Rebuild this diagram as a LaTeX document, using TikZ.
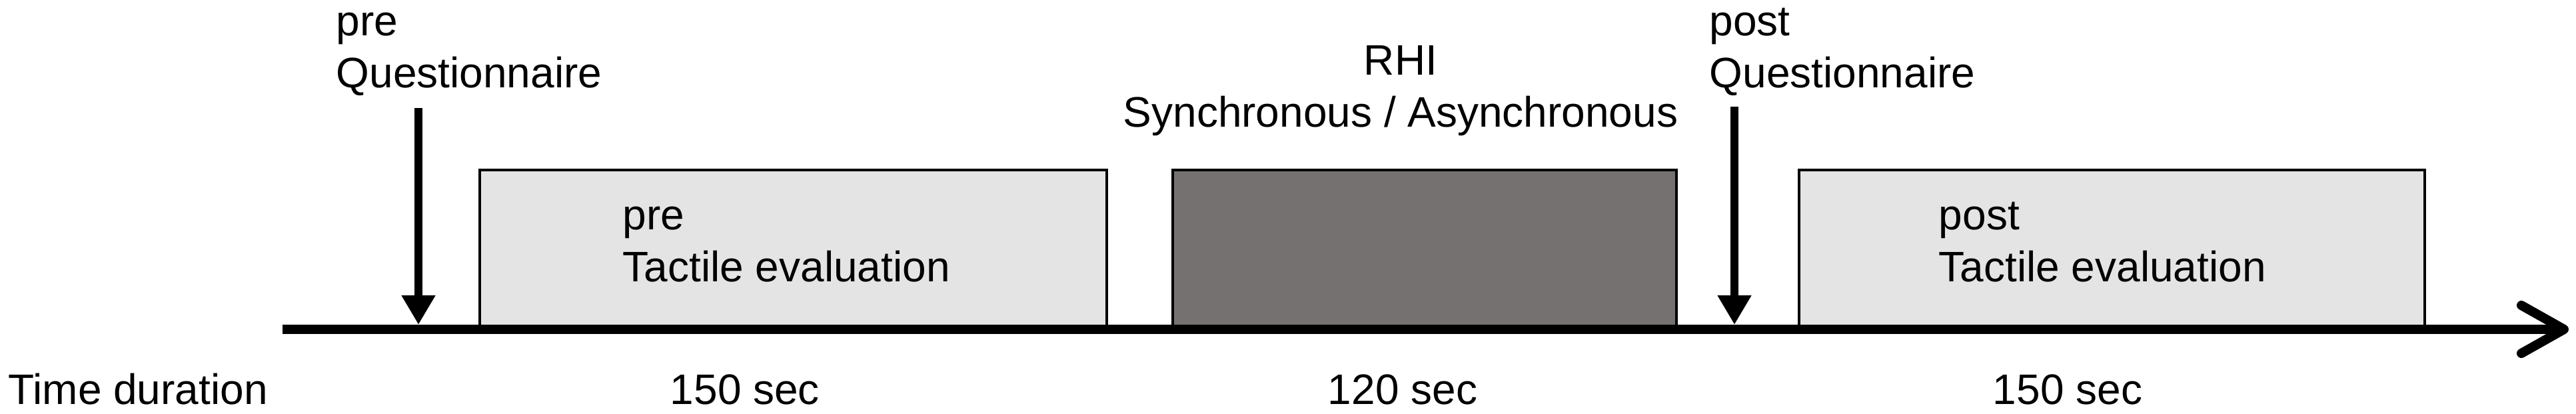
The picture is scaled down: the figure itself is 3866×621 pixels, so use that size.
\documentclass[tikz,border=0pt]{standalone}
\usepackage{fontspec}
\setmainfont{Liberation Sans}
\usetikzlibrary{arrows.meta}
\definecolor{lightbox}{HTML}{E4E4E4}
\definecolor{darkbox}{HTML}{767171}
\begin{document}
\begin{tikzpicture}[x=0.25pt,y=-0.25pt,
  lbl/.style={inner sep=0pt, font=\fontsize{16}{19.5}\selectfont},
  phase/.style={draw, line width=1.2pt, inner sep=0pt, minimum height=58.75pt},
  marker/.style={line width=3.2pt, -{Triangle[width=12pt,length=11pt]}},
  timeaxis/.style={line width=3.5pt, -{Straight Barb[length=16pt,width=18pt,round]}}]
\useasboundingbox (0,0) rectangle (3866,621);
% phase boxes
\node[phase, fill=lightbox, minimum width=235.25pt] (preTE) at (1190.5,372.5) {};
\node[phase, fill=darkbox, minimum width=189pt] (rhi) at (2138,372.5) {};
\node[phase, fill=lightbox, minimum width=234.75pt] (postTE) at (3169.5,372.5) {};
% texts in boxes (base = last line)
\node[lbl, anchor=base west, align=left] (preTEtxt) at (934,422) {pre\\Tactile evaluation};
\node[lbl, anchor=base west, align=left] (postTEtxt) at (2909,422) {post\\Tactile evaluation};
% labels above
\node[lbl, anchor=base west, align=left] (preQ) at (504,131) {pre\\Questionnaire};
\node[lbl, anchor=base west, align=left] (postQ) at (2565,131) {post\\Questionnaire};
\node[lbl, anchor=base, align=center] (rhiTxt) at (2102,190) {RHI\\Synchronous / Asynchronous};
% time axis
\coordinate (axL) at (424,494);
\coordinate (axR) at (3855,494);
\draw[timeaxis] (axL) -- (axR);
% questionnaire arrows
\coordinate (preQtop) at (628,162);
\coordinate (preQend) at (628,487);
\coordinate (postQtop) at (2603,160);
\coordinate (postQend) at (2603,487);
\draw[marker] (preQtop) -- (preQend);
\draw[marker] (postQtop) -- (postQend);
% durations
\node[lbl, anchor=base west] (td) at (12,606) {Time duration};
\node[lbl, anchor=base] (d1) at (1118,606) {150 sec};
\node[lbl, anchor=base] (d2) at (2105,606) {120 sec};
\node[lbl, anchor=base] (d3) at (3103,606) {150 sec};
\end{tikzpicture}
\end{document}
